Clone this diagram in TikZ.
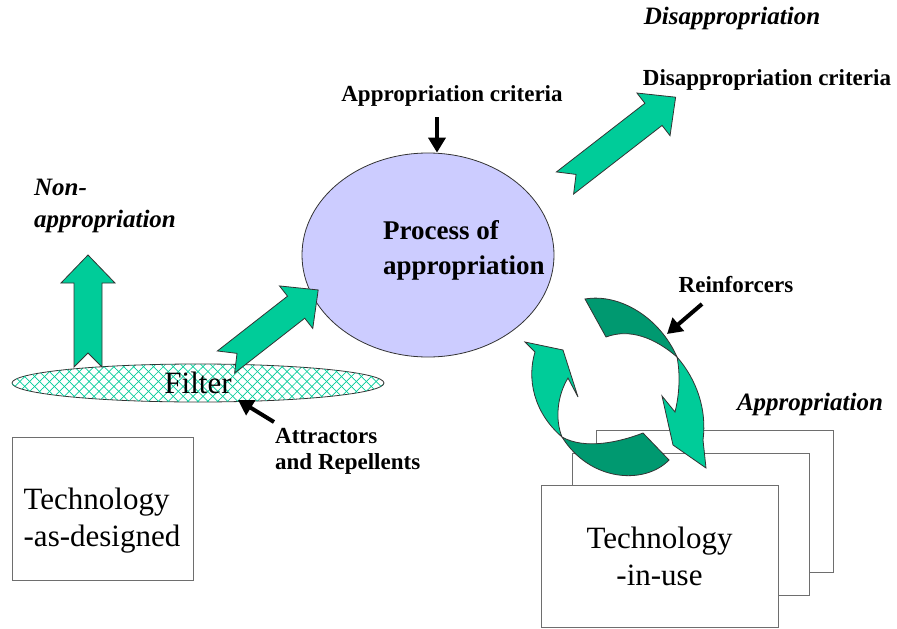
\documentclass[tikz,border=0pt]{standalone}
\usepackage{fontspec}
\setmainfont{Liberation Serif}
\usetikzlibrary{positioning}
\usetikzlibrary{shapes.geometric}
\usetikzlibrary{patterns.meta}
\usetikzlibrary{arrows.meta}
\definecolor{arrowgreen}{RGB}{0,204,153}
\definecolor{darkgreen}{RGB}{0,153,112}
\definecolor{procblue}{RGB}{204,204,255}
\definecolor{boxgrey}{RGB}{110,110,110}
\tikzset{
  label text/.style={font=\fontsize{23}{26}\selectfont\bfseries, align=left, inner sep=0pt},
  state text/.style={font=\fontsize{25}{32}\selectfont\bfseries\itshape, align=left, inner sep=0pt},
  big text/.style={font=\fontsize{31}{37}\selectfont, inner sep=0pt},
  tech box/.style={draw=boxgrey, line width=1pt, fill=white, minimum width=237pt, minimum height=142pt},
  pointer/.style={line width=4pt, -{Triangle[length=15pt,width=17pt]}},
  fat fill/.style={fill=arrowgreen, draw=black!80, line width=0.8pt},
  twist dark/.style={fill=darkgreen, draw=black!80, line width=0.8pt},
  pics/fatarrow/.style={code={
    \draw[fat fill] (0,14) -- (#1-28,14) -- (#1-28,27) -- (#1,0) -- (#1-28,-27) -- (#1-28,-14) -- (0,-14) -- (14,0) -- cycle;
  }},
}
\begin{document}
\begin{tikzpicture}[x=1pt, y=-1pt]
  \useasboundingbox (0,0) rectangle (897,629);

  % TECHNOLOGY AS DESIGNED
  \node[draw=boxgrey, line width=1pt, minimum width=181pt, minimum height=143pt] (designed) at (102.5,508.5) {};
  \node[big text, align=left] (designedtext) at (102,521) {Technology\\-as-designed};

  % FILTER
  \node[ellipse, draw=black!80, line width=0.8pt, minimum width=372pt, minimum height=38pt,
        pattern={Lines[angle=45, distance=7pt, line width=0.7pt]}, pattern color=arrowgreen,
        postaction={pattern={Lines[angle=-45, distance=7pt, line width=0.7pt]}, pattern color=arrowgreen},
        big text] (filter) at (198,383) {Filter};
  \node[label text, anchor=north west] (attr) at (275,428) {Attractors\\and Repellents};
  \coordinate (attrstart) at (274,422);
  \draw[pointer] (attrstart) -- (238,400);

  % NON-APPROPRIATION
  \node[state text] (nonapp) at (105,206) {Non-\\appropriation};
  \pic[rotate=90] (uparrow) at (88,367) {fatarrow=112};

  % PROCESS OF APPROPRIATION
  \node[ellipse, draw=black!80, line width=0.8pt, fill=procblue, minimum width=252pt, minimum height=204pt] (proc) at (428,255) {};
  \node[font=\fontsize{27}{35}\selectfont\bfseries, align=left, anchor=west, inner sep=0pt] (proctext) at (383,250) {Process of\\appropriation};
  \pic[rotate=38] (filterarrow) at (226,362) {fatarrow=117};

  % criteria in
  \node[label text] (critin) at (452,96) {Appropriation criteria};
  \coordinate (critarrow) at (437,117);
  \draw[pointer] (critarrow) -- (critarrow |- proc.north);

  % DISAPPROPRIATION
  \node[state text] (disapp) at (732,18) {Disappropriation};
  \node[label text] (discrit) at (767,80) {Disappropriation criteria};
  \pic[rotate=37.8] (disarrow) at (565,183) {fatarrow=140};

  % TECHNOLOGY IN USE (stack)
  \node[tech box] (use3) at (714.5,501) {};
  \node[tech box] (use2) at (690.5,524) {};
  \node[tech box, big text, align=center] (use1) at (659.5,556) {Technology\\-in-use};
  \node[state text] (app) at (810,404) {Appropriation};

  % REINFORCERS
  % right arrow, top to bottom
  \draw[twist dark] (585,299) .. controls (620,293) and (660,318) .. (677,357)
    .. controls (655,338) and (630,328) .. (606,337) -- cycle;
  \draw[fat fill] (677,357) .. controls (697,380) and (707,410) .. (703,440) -- (706,468) -- (673,445)
    -- (662,396) -- (675,412) .. controls (680,392) and (680,372) .. (677,357) -- cycle;
  % left arrow, bottom to top
  \draw[twist dark] (669,460) .. controls (645,485) and (590,482) .. (562,437)
    .. controls (585,450) and (620,442) .. (643,433) -- cycle;
  \draw[fat fill] (562,437) .. controls (533,412) and (527,378) .. (535,352) -- (525,342) -- (563,350)
    -- (578,397) -- (568,378) .. controls (557,396) and (555,420) .. (562,437) -- cycle;
  \node[label text] (reinf) at (736,285) {Reinforcers};
  \coordinate (reinfstart) at (702,304);
  \draw[pointer] (reinfstart) -- (667,334);
\end{tikzpicture}
\end{document}
